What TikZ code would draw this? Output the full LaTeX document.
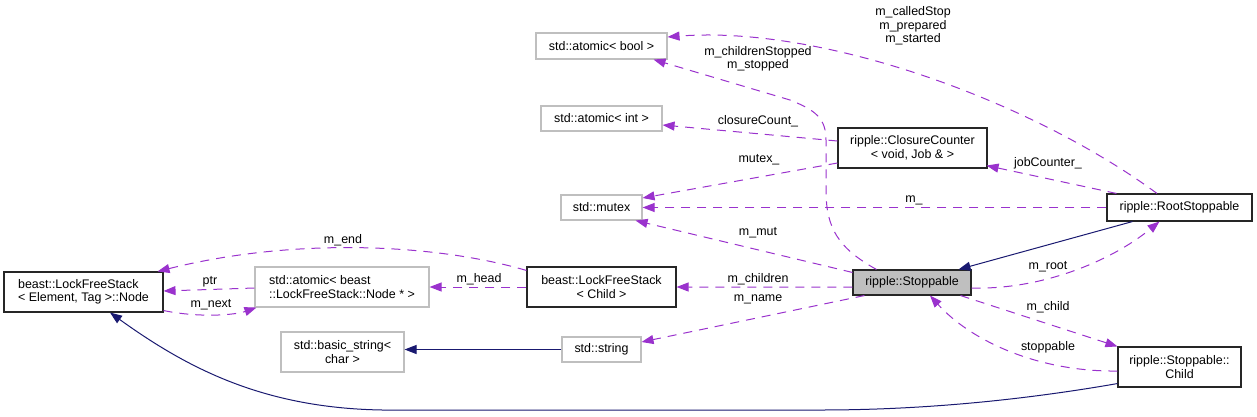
\documentclass[tikz,border=0pt]{standalone}
\usepackage{fontspec}
\setmainfont{Liberation Sans}
\usetikzlibrary{arrows.meta,calc}
\definecolor{edgepurple}{HTML}{9A32CD}
\definecolor{inhnavy}{HTML}{191970}
\definecolor{greyb}{HTML}{BFBFBF}
\begin{document}
\begin{tikzpicture}[x=1bp,y=-1bp,
  font=\fontsize{12.5}{13.5}\selectfont,
  cls/.style={draw=black!85,line width=1.1bp,inner sep=0pt,align=center},
  ext/.style={draw=greyb,line width=1.1bp,inner sep=0pt,align=center},
  cur/.style={draw=black!85,fill=greyb,line width=1.1bp,inner sep=0pt,align=center},
  uses/.style={draw=edgepurple,line width=1bp,dash pattern=on 9bp off 7bp,
    -{Triangle[length=12bp,width=9bp]},shorten >=0pt},
  inh/.style={draw=inhnavy,line width=1bp,-{Triangle[length=12bp,width=9bp]}},
  lbl/.style={inner sep=0pt,align=center}]
\useasboundingbox (0,0) rectangle (1257,416);
% nodes
\node[ext,minimum width=131bp,minimum height=26bp] (abool) at (601.5,46) {std::atomic< bool >};
\node[ext,minimum width=121bp,minimum height=25bp] (aint) at (601.5,118.5) {std::atomic< int >};
\node[ext,minimum width=81bp,minimum height=25bp] (mutex) at (601.5,207.5) {std::mutex};
\node[cls,minimum width=149bp,minimum height=40bp] (cc) at (912.5,148) {ripple::ClosureCounter\\< void, Job \& >};
\node[cls,minimum width=145bp,minimum height=27bp] (root) at (1179.5,207.5) {ripple::RootStoppable};
\node[cur,minimum width=118bp,minimum height=25bp] (stop) at (912,282.5) {ripple::Stoppable};
\node[cls,minimum width=123bp,minimum height=40bp] (child) at (1179.5,367) {ripple::Stoppable::\\Child};
\node[cls,minimum width=149bp,minimum height=40bp] (lfs) at (601.5,287) {beast::LockFreeStack\\< Child >};
\node[ext,minimum width=79bp,minimum height=25bp] (str) at (601.5,349.5) {std::string};
\node[ext,minimum width=123bp,minimum height=40bp] (bstr) at (342.5,352) {std::basic\_string<\\char >};
\node[ext,minimum width=174bp,minimum height=40bp,align=left] (anode) at (342,287) {std::atomic< beast\\::LockFreeStack::Node * >};
\node[cls,minimum width=159bp,minimum height=40bp,align=left] (node) at (83.5,292) {beast::LockFreeStack\\< Element, Tag >::Node};
% labels
\node[lbl] (l1) at (758,59) {m\_childrenStopped\\m\_stopped};
\node[lbl] (l2) at (913,26) {m\_calledStop\\m\_prepared\\m\_started};
\node[lbl] (l3) at (758,121) {closureCount\_};
\node[lbl] (l4) at (759,160) {mutex\_};
\node[lbl] (l5) at (914,200) {m\_};
\node[lbl] (l6) at (1048,163) {jobCounter\_};
\node[lbl] (l7) at (1048,267) {m\_root};
\node[lbl] (l8) at (758,233) {m\_mut};
\node[lbl] (l9) at (758,279) {m\_children};
\node[lbl] (l10) at (758,299) {m\_name};
\node[lbl] (l11) at (1048,307) {m\_child};
\node[lbl] (l12) at (1048,347) {stoppable};
\node[lbl] (l13) at (479,279) {m\_head};
\node[lbl] (l14) at (343,240) {m\_end};
\node[lbl] (l15) at (210,282) {ptr};
\node[lbl] (l16) at (211,305) {m\_next};
% edges
\draw[uses] ($(stop.north west)+(24,0)$) .. controls (838,248) and (826,228) .. (826,190) -- (826,140)
  .. controls (826,118) and (815,110) .. (790,100) -- ($(abool.south east)+(-14,0)$);
\draw[uses] ($(root.north)+(-22.5,0)$) .. controls (1030,100) and (820,25) .. ($(abool.east)+(0,-9)$);
\draw[uses] ($(cc.west)+(0,-7)$) -- ($(aint.east)+(0,6.5)$);
\draw[uses] ($(cc.west)+(0,15)$) -- ($(mutex.east)+(0,-9.5)$);
\draw[uses] (root.west) -- (mutex.east);
\draw[uses] ($(root.north west)+(10,0)$) -- ($(cc.south east)+(-1,-3)$);
\draw[inh] ($(root.south west)+(26,0)$) -- ($(stop.north east)+(-13,0)$);
\draw[uses] ($(stop.east)+(0,5.5)$) .. controls (1040,290) and (1110,262) .. ($(root.south west)+(53,0)$);
\draw[uses] ($(stop.north west)+(0,3)$) -- ($(mutex.south east)+(-7,0)$);
\draw[uses] ($(stop.west)+(0,4.5)$) -- ($(lfs.east)+(0,0)$);
\draw[uses] ($(stop.south west)+(12,0)$) -- ($(str.east)+(0,-7.5)$);
\draw[uses] ($(stop.south east)+(-11,0)$) -- (child.north west);
\draw[uses] ($(child.west)+(0,4)$) .. controls (1040,372) and (972,342) .. ($(stop.south)+(18,0)$);
\draw[inh] ($(child.south west)+(0,-4)$) .. controls (1000,404) and (900,410) .. (820,410) -- (400,410)
  .. controls (270,412) and (190,370) .. ($(node.south)+(26.5,0)$);
\draw[inh] (str.west) -- (str.west -| bstr.east);
\draw[uses] (lfs.west) -- (anode.east);
\draw[uses] ($(lfs.north west)+(0,4)$) .. controls (440,245) and (300,236) .. ($(node.north east)+(-6,0)$);
\draw[uses] ($(anode.west)+(0,1)$) -- ($(node.east)+(0,-1)$);
\draw[uses] ($(node.south east)+(0,-2)$) .. controls (200,318) and (235,315) .. ($(anode.south west)+(2,0)$);
\end{tikzpicture}
\end{document}
